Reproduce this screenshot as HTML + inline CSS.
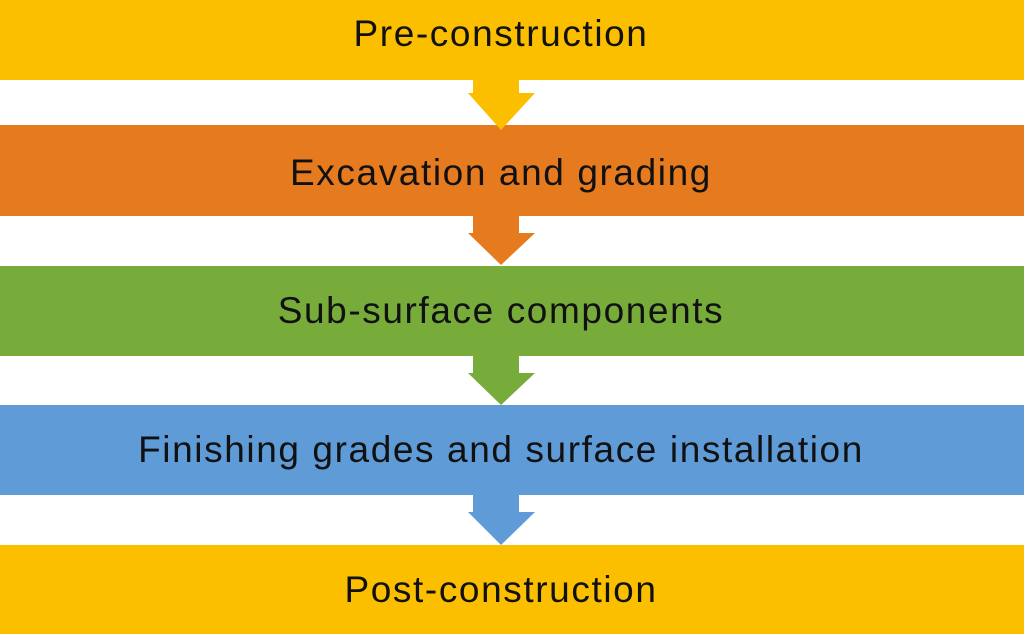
<!DOCTYPE html>
<html><head><style>
body{margin:0;width:1024px;height:634px;background:#fff;position:relative;overflow:hidden;font-family:"Liberation Sans",sans-serif}
.b{position:absolute;left:0;width:1024px;display:flex;align-items:center;justify-content:center;font-size:37px;color:#111;letter-spacing:1.6px;box-sizing:border-box;padding-right:22px}
svg{position:absolute;left:0;top:0}
</style></head><body>
<div class="b" style="top:0;height:80px;background:#fbbf00;padding-bottom:12px">Pre-construction</div>
<div class="b" style="top:125px;height:91px;background:#e67a1f;padding-top:4px">Excavation and grading</div>
<div class="b" style="top:266px;height:90px;background:#77ac3b">Sub-surface components</div>
<div class="b" style="top:405px;height:90px;background:#5f9bd6">Finishing grades and surface installation</div>
<div class="b" style="top:545px;height:89px;background:#fbbf00">Post-construction</div>
<svg width="1024" height="634">
<polygon points="473,80 519,80 519,93 535,93 501,130 468,93 473,93" fill="#fbbf00"/>
<polygon points="473,216 519,216 519,233 535,233 501,265 468,233 473,233" fill="#e67a1f"/>
<polygon points="473,356 519,356 519,373 535,373 501,405 468,373 473,373" fill="#77ac3b"/>
<polygon points="473,495 519,495 519,512 535,512 501,545 468,512 473,512" fill="#5f9bd6"/>
</svg>
</body></html>
